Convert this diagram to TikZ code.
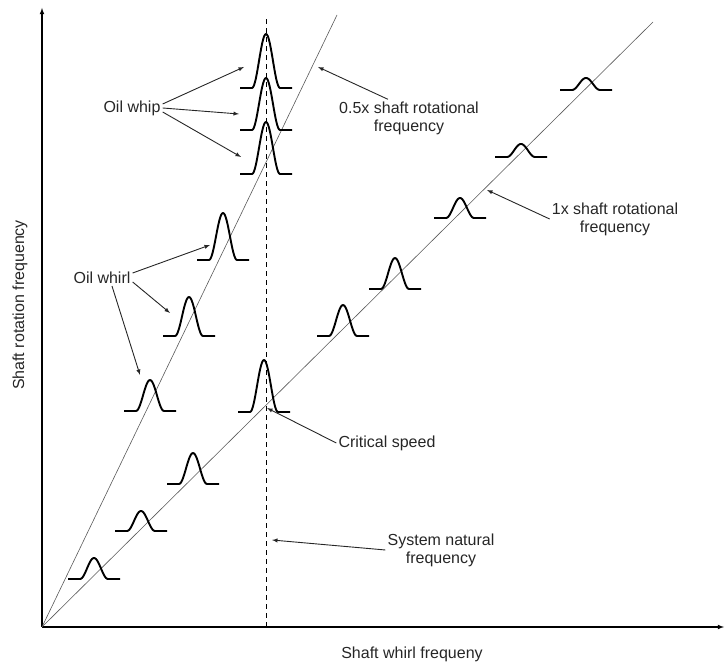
\documentclass[tikz,border=0pt]{standalone}
\usepackage{fontspec}
\setmainfont{Liberation Sans}
\definecolor{ink}{HTML}{262626}
\tikzset{
  lbl/.style={text=ink, font=\fontsize{16}{18}\selectfont, align=center, inner sep=2pt},
  bump/.style={line width=1.9pt, line join=round},
  ptr/.style={->, draw=ink, line width=.9pt},
}
\begin{document}
\begin{tikzpicture}[>=latex, x=1pt, y=1pt]
\useasboundingbox (0,0) rectangle (726,666);
\coordinate (O) at (42,39);
\draw[->, line width=1.1pt](O)--(42,658);
\draw[->, line width=1.1pt](O)--(724,39);
\draw[gray!70!black, line width=.6pt](O)--(337,651);
\draw[gray!70!black, line width=.6pt](O)--(653,644);
\draw[dash pattern=on 5pt off 4pt, line width=.9pt](266,39)--(266,649);
% spectra
\foreach \cx/\by/\ht in {266/578/54, 266/536/52, 266/492/52, 223/406/47, 189/330/39, 150/255/31,
  264/254/52, 94/87/21, 141/135/20, 193/182/31, 343/330/31, 395/377/31, 460/448/20, 521/509/13, 586/576/12}
{
    \draw[bump](\cx-26,\by)--(\cx-14,\by)
      --plot[domain=-14:14, samples=31, variable=\t]({\cx+\t},{\by+\ht*(1+cos(180*\t/14))/2})
      --(\cx+26,\by);
}
\node[lbl](whip) at (132,558){Oil whip};
\coordinate (whip1) at (244,599);
\coordinate (whip2) at (239,552);
\coordinate (whip3) at (241,509);
\draw[ptr]([yshift=4]whip.east)--(whip1);
\draw[ptr](whip.east)--(whip2);
\draw[ptr]([yshift=-4]whip.east)--(whip3);

\node[lbl](half) at (409,548){0.5x shaft rotational\\frequency};
\coordinate (halfline) at (318,599);
\draw[ptr]([xshift=-21]half.north)--(halfline);

\node[lbl](one) at (615,447){1x shaft rotational\\frequency};
\coordinate (oneline) at (487,476);
\draw[ptr](one.west)--(oneline);

\node[lbl](whirl) at (102,388){Oil whirl};
\coordinate (whirl1) at (210,421);
\coordinate (whirl2) at (170,353);
\coordinate (whirl3) at (140,291);
\draw[ptr]([yshift=5]whirl.east)--(whirl1);
\draw[ptr]([yshift=-4]whirl.east)--(whirl2);
\draw[ptr]([xshift=10]whirl.south)--(whirl3);

\node[lbl](crit) at (387,223){Critical speed};
\coordinate (critpt) at (267,258);
\draw[ptr](crit.west)--(critpt);

\node[lbl](nat) at (441,116){System natural\\frequency};
\coordinate (natpt) at (272,126);
\draw[ptr](nat.west)--(natpt);

\node[lbl](xlab) at (412,12){Shaft whirl frequeny};
\node[lbl, rotate=90](ylab) at (20,361){Shaft rotation frequency};
\end{tikzpicture}
\end{document}
